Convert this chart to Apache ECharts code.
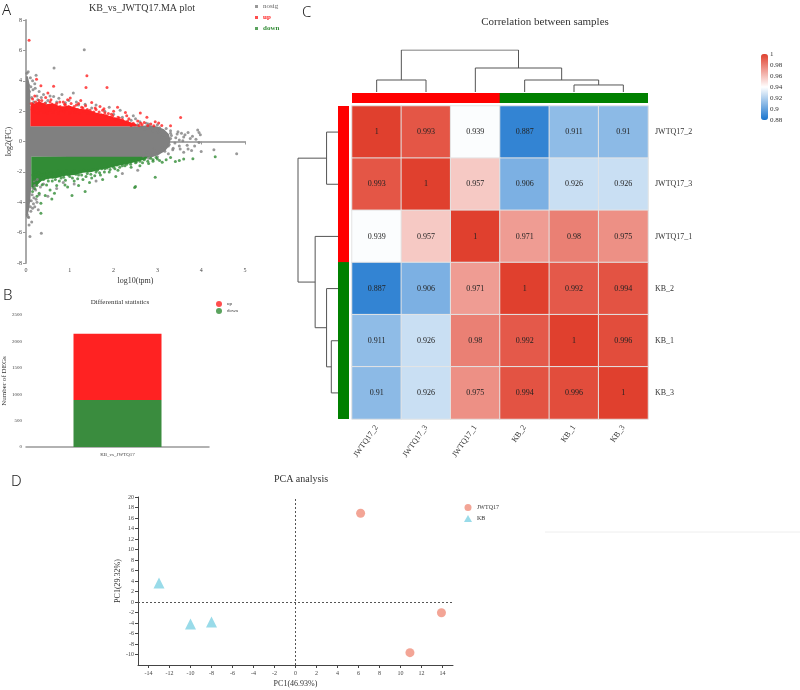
<!DOCTYPE html>
<html>
<head>
<meta charset="utf-8">
<script src="https://cdn.jsdelivr.net/npm/echarts@6/dist/echarts.min.js"></script>
<style>
  html, body { margin: 0; padding: 0; background: #fff; }
  #main { width: 800px; height: 690px; }
</style>
</head>
<body>
<div id="main"></div>
<script>
// ---------- A: MA plot ----------
// dense cores (outline of the solid-looking regions)
const maGrayCore = [[0,4.3],[0.04,4.3],[0.08,3.8],[0.1,3.0],[0.1,1.0],[2.6,1.0],[2.8,1.08],[3.0,0.98],[3.15,0.8],[3.26,0.5],[3.3,0.1],[3.27,-0.3],[3.17,-0.65],[3.0,-0.92],[2.85,-1.05],[0.12,-1.0],[0.12,-3.0],[0.1,-3.8],[0.07,-4.5],[0.03,-4.9],[0,-5.0]]
const maUpCore = [[0.1,1.0],[0.1,2.3],[0.14,2.6],[0.2,2.5],[0.3,2.65],[0.45,2.45],[0.6,2.5],[0.8,2.3],[1.0,2.35],[1.2,2.15],[1.4,2.1],[1.6,1.9],[1.8,1.8],[2.0,1.6],[2.2,1.45],[2.4,1.25],[2.55,1.1],[2.6,1.0]]
const maDownCore = [[0.12,-1.0],[2.8,-1.0],[2.7,-1.2],[2.5,-1.35],[2.3,-1.5],[2.1,-1.6],[1.9,-1.75],[1.7,-1.85],[1.5,-2.0],[1.3,-2.05],[1.1,-2.2],[0.9,-2.25],[0.7,-2.4],[0.5,-2.45],[0.35,-2.6],[0.25,-2.9],[0.15,-3.1],[0.12,-3.0]]
// scattered genes outside the cores
const maNosig = [[0.02,4.5],[0.05,4.6],[0.1,4.2],[0.15,4.0],[0.2,3.8],[0.23,4.37],[0.64,4.84],[1.33,6.04],[0.3,3.3],[0.25,3.0],
  [0.35,2.9],[0.63,2.97],[0.82,3.1],[1.08,3.19],[0.5,2.7],[0.7,2.6],[0.9,2.55],[1.2,2.4],[1.5,2.2],[1.8,2.0],[2.0,1.8],[2.2,1.6],
  [2.4,1.4],[2.6,1.3],[2.8,1.15],[2.75,1.2],[3.0,1.1],[3.05,0.9],[3.2,0.85],[3.3,0.7],[3.45,0.5],[3.55,0.55],[3.6,0.3],[3.7,0.6],
  [3.8,0.35],[3.95,0.6],[3.98,0.45],[3.95,-0.07],[3.85,-0.3],[4.0,-0.66],[3.7,-0.5],[3.5,-0.3],[3.4,-0.1],[3.3,0.2],[3.1,0.3],
  [3.5,0.1],[3.6,-0.7],[3.25,-0.8],[3.0,-1.0],[2.8,-1.1],[4.29,-0.55],[4.81,-0.81],[3.3,0.55],[3.25,-0.3],[3.35,-0.55],
  [2.55,1.1],[2.62,0.95],[2.68,-0.95],[2.72,0.8],[2.76,-0.7],[2.82,0.95],[2.86,-0.85],[2.9,0.7],[2.93,-0.5],[2.98,0.55],
  [3.02,-0.75],[3.06,0.7],[3.1,-0.4],[3.13,0.45],[3.17,-0.65],[3.22,0.3],[3.27,-0.2],[3.32,0.4],[3.36,-0.45],[3.42,0.25],
  [3.47,0.65],[3.52,-0.5],[3.58,0.05],[3.63,0.45],[3.68,-0.25],[3.75,0.2],[3.78,-0.6],[3.88,0.15],[3.92,0.75],
  [0.06,3.7],[0.08,3.3],[0.11,3.6],[0.13,2.9],[0.16,3.4],[0.18,2.6],[0.21,3.5],[0.27,2.75],[0.4,3.1],[0.45,2.55],[0.55,3.0],
  [0.75,2.85],[0.98,2.7],[1.15,2.6],[1.35,2.45],[1.6,2.4],[1.9,2.25],[2.15,2.05],[2.45,1.7],[2.5,1.5],
  [0.05,-4.95],[0.09,-6.26],[0.35,-6.04],[0.1,-4.3],[0.15,-4.4],[0.2,-4.3],[0.25,-4.0],[0.12,-3.9],[0.18,-3.7],[0.3,-3.5],
  [0.22,-3.2],[0.06,-5.0],[0.03,-4.8],[0.28,-4.5],[0.16,-3.1],[0.2,-2.9],[0.08,-3.9],[0.11,-4.6],[0.14,-3.5],[0.17,-4.1],
  [0.19,-2.6],[0.23,-3.8],[0.26,-2.5],[0.13,-5.3],[0.07,-5.5],[0.04,-4.2],[0.33,-3.0],[0.4,-2.8],[0.5,-3.6],[0.7,-3.1],
  [0.85,-2.7],[1.1,-2.8],[1.6,-2.6],[2.2,-2.1],[2.55,-1.9]]
const maUp = [[0.07,6.66],[1.39,4.33],[1.37,3.56],[1.85,3.56],[0.63,3.63],[0.24,4.1],[0.34,3.67],[3.53,1.58],[2.09,2.26],[2.27,1.91],
  [2.61,1.87],[2.76,1.6],[3.03,1.21],[3.3,1.03],[2.92,1.03],[0.78,2.31],[1.01,2.86],[1.5,2.57],[1.69,2.31],[0.15,2.8],[0.2,3.0],
  [0.3,2.7],[0.45,2.9],[0.55,2.6],[0.5,3.2],[0.7,2.5],[0.9,2.4],[1.1,2.3],[1.3,2.2],[1.4,2.1],[1.6,2.1],[1.8,1.9],[1.95,1.8],
  [2.1,1.6],[2.2,1.45],[2.35,1.5],[2.45,1.2],[2.55,1.35],[2.65,1.1],[2.7,1.25],[2.85,1.15],[2.95,1.3],[3.1,1.05],[2.3,1.7],
  [1.2,2.5],[0.95,2.75],[0.12,2.5],[0.38,2.45],[1.05,2.15],[1.75,2.05],[2.0,2.0],[0.6,2.45],[0.85,2.6],[1.25,2.7],[1.55,1.95],[2.4,1.05],
  [0.14,2.1],[0.17,2.35],[0.19,1.95],[0.22,2.6],[0.26,2.2],[0.28,1.9],[0.31,2.45],[0.33,2.05],[0.36,2.7],[0.39,2.25],[0.41,1.95],
  [0.43,2.5],[0.47,2.15],[0.49,1.9],[0.52,2.35],[0.54,2.05],[0.57,2.75],[0.59,2.2],[0.62,1.95],[0.66,2.4],[0.68,2.1],[0.72,2.25],
  [0.74,1.9],[0.77,2.6],[0.8,2.05],[0.83,2.2],[0.86,1.95],[0.88,2.45],[0.92,2.1],[0.97,2.3],[1.0,1.9],[1.03,2.5],[1.07,2.05],
  [1.12,1.95],[1.15,2.4],[1.18,2.1],[1.22,1.85],[1.27,2.25],[1.32,2.0],[1.36,2.35],[1.42,1.85],[1.46,2.05],[1.52,1.9],[1.58,2.2],
  [1.63,1.8],[1.67,1.95],[1.72,1.75],[1.78,2.15],[1.83,1.7],[1.88,1.85],[1.93,1.6],[1.98,1.7],[2.03,1.5],[2.08,1.45],[2.13,1.55],
  [2.18,1.3],[2.25,1.25],[2.32,1.35],[2.38,1.15],[2.48,1.1],[2.58,1.05],[2.62,1.2],[2.78,1.05]]
const maDown = [[0.34,-4.73],[0.34,-4.07],[1.35,-3.3],[1.05,-3.56],[0.89,-2.86],[2.5,-2.97],[2.48,-3.03],[2.95,-2.35],[0.59,-3.78],
  [0.44,-3.56],[0.47,-2.86],[3.11,-1.36],[3.6,-1.16],[3.81,-1.14],[3.3,-1.05],[3.41,-1.32],[4.32,-1.0],[0.15,-3.3],[0.2,-3.1],
  [0.25,-2.9],[0.3,-3.4],[0.6,-2.6],[0.7,-2.9],[0.8,-2.4],[1.0,-2.3],[1.1,-2.6],[1.2,-2.2],[1.4,-2.1],[1.5,-2.4],[1.6,-2.0],
  [1.7,-2.2],[1.8,-1.8],[1.9,-2.0],[2.0,-1.7],[2.1,-1.9],[2.2,-1.6],[2.3,-1.5],[2.4,-1.7],[2.5,-1.4],[2.6,-1.3],[2.7,-1.2],
  [2.8,-1.45],[2.85,-1.1],[2.9,-1.3],[3.0,-1.15],[3.2,-1.2],[0.4,-2.5],[0.5,-2.4],[0.9,-2.1],[1.3,-2.5],[1.45,-2.7],[2.05,-2.3],
  [1.75,-2.5],[2.6,-1.6],[3.5,-1.25],[0.25,-3.6],[0.55,-3.2],[0.65,-3.4],[0.95,-3.0],[1.2,-2.9],
  [0.16,-2.2],[0.18,-2.5],[0.21,-2.0],[0.23,-2.7],[0.27,-2.3],[0.29,-2.05],[0.32,-2.55],[0.35,-2.2],[0.37,-2.85],[0.42,-2.1],
  [0.45,-2.35],[0.48,-2.0],[0.51,-2.6],[0.53,-2.25],[0.57,-2.05],[0.61,-2.35],[0.64,-2.1],[0.67,-2.5],[0.71,-2.2],[0.73,-1.95],
  [0.76,-2.6],[0.79,-2.15],[0.83,-2.0],[0.86,-2.35],[0.9,-2.55],[0.93,-1.95],[0.97,-2.2],[1.02,-2.05],[1.06,-2.4],[1.1,-1.95],
  [1.14,-2.15],[1.18,-2.45],[1.23,-2.0],[1.27,-2.2],[1.33,-1.9],[1.37,-2.3],[1.42,-1.95],[1.48,-2.15],[1.53,-1.85],[1.57,-2.25],
  [1.63,-1.9],[1.68,-2.05],[1.73,-1.8],[1.79,-2.0],[1.85,-1.75],[1.92,-1.85],[1.97,-1.6],[2.03,-1.8],[2.08,-1.55],[2.14,-1.7],
  [2.19,-1.45],[2.26,-1.6],[2.33,-1.35],[2.39,-1.5],[2.45,-1.25],[2.52,-1.35],[2.58,-1.15],[2.66,-1.4],[2.72,-1.1],[2.78,-1.3],
  [2.9,-1.2],[2.97,-1.05],[3.05,-1.25]]

// ---------- B: differential statistics ----------
const degCategories = ['KB_vs_JWTQ17']
const degDown = [890]
const degUp = [1255]

// ---------- C: correlation ----------
const samples = ['JWTQ17_2', 'JWTQ17_3', 'JWTQ17_1', 'KB_2', 'KB_1', 'KB_3']
const sampleGroups = ['JWTQ17', 'JWTQ17', 'JWTQ17', 'KB', 'KB', 'KB']
const corrMatrix = [
  [1, 0.993, 0.939, 0.887, 0.911, 0.91],
  [0.993, 1, 0.957, 0.906, 0.926, 0.926],
  [0.939, 0.957, 1, 0.971, 0.98, 0.975],
  [0.887, 0.906, 0.971, 1, 0.992, 0.994],
  [0.911, 0.926, 0.98, 0.992, 1, 0.996],
  [0.91, 0.926, 0.975, 0.994, 0.996, 1]
]
// merges: [nodeA, nodeB, height]; leaves are 0..5, merged nodes get ids 6, 7, ...
const dendroMerges = [[0, 1, 0.007], [4, 5, 0.0041], [3, 7, 0.007], [2, 8, 0.014], [6, 9, 0.0245]]

// ---------- D: PCA ----------
const pcaJWTQ17 = [[6.2, 16.9], [13.9, -2.05], [10.9, -9.65]]
const pcaKB = [[-13.0, 3.6], [-10.0, -4.2], [-8.0, -3.8]]
const pcaXTicks = [-14, -12, -10, -8, -6, -4, -2, 0, 2, 4, 6, 8, 10, 12, 14]

const SERIF = "'Liberation Serif', 'Times New Roman', serif"
const SANS = "'Noto Sans', 'DejaVu Sans', sans-serif"
const RED = '#ff2222'
const GREEN = '#328c36'
const GRAY = '#808080'
const groupColors = {JWTQ17: '#ff0000', KB: '#008000'}

// dendrogram U-shapes in data units (leaf i at i + 0.5)
const dendroLines = (merges, n, horizontal) => {
  const pos = [], ht = [], out = []
  for (let i = 0; i < n; i++) { pos[i] = i + 0.5; ht[i] = 0 }
  merges.forEach(([a, b, h], k) => {
    pos[n + k] = (pos[a] + pos[b]) / 2
    ht[n + k] = h
    const pts = [[pos[a], ht[a]], [pos[a], h], [pos[b], h], [pos[b], ht[b]]]
    out.push({coords: horizontal ? pts.map(p => [p[1], p[0]]) : pts})
  })
  return out
}
const rootH = dendroMerges[dendroMerges.length - 1][2]

const polygonSeries = (points, color, xi, yi) => ({
  type: 'custom', xAxisIndex: xi, yAxisIndex: yi, silent: true, data: [0],
  renderItem: (params, api) => ({
    type: 'polygon',
    shape: {points: points.map(p => api.coord(p))},
    style: {fill: color}
  })
})

const heatData = []
corrMatrix.forEach((row, r) => row.forEach((v, c) => heatData.push([c, r, v])))

const hidden = {show: false}
const tinyAxis = (extra) => Object.assign({
  axisLine: {lineStyle: {color: '#999', width: 1.5}},
  axisTick: {lineStyle: {color: '#999'}, length: 3},
  axisLabel: {fontSize: 6, color: '#444', margin: 4},
  splitLine: hidden,
  nameTextStyle: {fontSize: 8, color: '#333'}
}, extra)

const option = {
  animation: false,
  textStyle: {fontFamily: SERIF},
  grid: [
    {left: 26, top: 20, width: 219, height: 243, outerBoundsMode: 'none'},      // 0 MA
    {left: 26, top: 315, width: 183, height: 132, outerBoundsMode: 'none'},     // 1 DEGs
    {left: 352, top: 50, width: 296, height: 42, outerBoundsMode: 'none'},      // 2 top dendro
    {left: 298, top: 106, width: 40, height: 313, outerBoundsMode: 'none'},     // 3 left dendro
    {left: 352, top: 93, width: 296, height: 10, outerBoundsMode: 'none'},      // 4 col groups
    {left: 338, top: 106, width: 11, height: 313, outerBoundsMode: 'none'},     // 5 row groups
    {left: 352, top: 106, width: 296, height: 313, outerBoundsMode: 'none'},    // 6 heatmap
    {left: 761, top: 54, width: 7, height: 66, outerBoundsMode: 'none'},        // 7 colour scale
    {left: 138, top: 497, width: 315, height: 168, outerBoundsMode: 'none'}     // 8 PCA
  ],
  xAxis: [
    tinyAxis({gridIndex: 0, type: 'value', min: 0, max: 5, interval: 1, name: 'log10(tpm)',
      nameLocation: 'middle', nameGap: 14, nameTextStyle: {fontSize: 8, color: '#333'},
      axisLine: {lineStyle: {color: '#aaa', width: 2}}}),
    tinyAxis({gridIndex: 1, type: 'category', data: degCategories, axisTick: {alignWithLabel: false, length: 3, lineStyle: {color: '#999'}},
      axisLabel: {fontSize: 5, color: '#444', margin: 5}}),
    {gridIndex: 2, type: 'value', min: 0, max: 6, show: false},
    {gridIndex: 3, type: 'value', min: 0, max: rootH, inverse: true, show: false},
    {gridIndex: 4, type: 'category', data: samples, show: false},
    {gridIndex: 5, type: 'value', min: 0, max: 1, show: false},
    {gridIndex: 6, type: 'category', data: samples, axisLine: hidden, axisTick: hidden, splitLine: hidden,
      axisLabel: {interval: 0, rotate: 55, fontSize: 8, color: '#333', margin: 7}},
    {gridIndex: 7, type: 'category', data: [''], show: false},
    {gridIndex: 8, type: 'value', min: -15, max: 15, name: 'PC1(46.93%)', nameLocation: 'middle', nameGap: 15,
      nameTextStyle: {fontSize: 8, color: '#333'},
      axisLine: {onZero: false, lineStyle: {color: '#444'}},
      axisTick: {customValues: pcaXTicks, length: 3, lineStyle: {color: '#444'}},
      axisLabel: {customValues: pcaXTicks, fontSize: 6, color: '#444', margin: 5},
      splitLine: hidden}
  ],
  yAxis: [
    tinyAxis({gridIndex: 0, type: 'value', min: -8, max: 8, interval: 2, name: 'log2(FC)',
      nameLocation: 'middle', nameGap: 13, nameTextStyle: {fontSize: 8, color: '#333'},
      axisLine: {lineStyle: {color: '#aaa', width: 2}}}),
    tinyAxis({gridIndex: 1, type: 'value', min: 0, max: 2500, interval: 500, name: 'Number of DEGs',
      nameLocation: 'middle', nameGap: 14, nameTextStyle: {fontSize: 7, color: '#333'},
      axisLabel: {fontSize: 5, color: '#444', margin: 4, formatter: v => String(v)}}),
    {gridIndex: 2, type: 'value', min: 0, max: rootH, show: false},
    {gridIndex: 3, type: 'value', min: 0, max: 6, inverse: true, show: false},
    {gridIndex: 4, type: 'value', min: 0, max: 1, show: false},
    {gridIndex: 5, type: 'category', data: samples, inverse: true, show: false},
    {gridIndex: 6, type: 'category', data: samples, inverse: true, position: 'right',
      axisLine: hidden, axisTick: hidden, splitLine: hidden,
      axisLabel: {fontSize: 8, color: '#333', margin: 7}},
    {gridIndex: 7, type: 'value', min: 0.88, max: 1, interval: 0.02, position: 'right',
      axisLine: hidden, splitLine: hidden,
      axisTick: {length: 2, lineStyle: {color: '#666'}},
      axisLabel: {fontSize: 7, color: '#333', margin: 2, formatter: v => String(+v.toFixed(2))}},
    {gridIndex: 8, type: 'value', min: -12, max: 20, interval: 2, name: 'PC1(29.32%)', nameLocation: 'middle',
      nameGap: 15, nameTextStyle: {fontSize: 8, color: '#333'},
      axisLine: {onZero: false, lineStyle: {color: '#444'}},
      axisTick: {length: 3, lineStyle: {color: '#444'}},
      axisLabel: {fontSize: 6, color: '#444', margin: 4, showMinLabel: false},
      splitLine: hidden}
  ],
  visualMap: {
    type: 'continuous', seriesIndex: 10, min: 0.88, max: 1, calculable: false,
    left: 761, top: 54, itemWidth: 7, itemHeight: 66, padding: 0, text: null,
    inRange: {color: ['#1874cd', '#ffffff', '#e0402e']},
    textStyle: {fontSize: 1, color: 'transparent'}
  },
  legend: [
    {data: [
        {name: 'nosig', textStyle: {color: '#666'}},
        {name: 'up', textStyle: {color: RED, fontWeight: 'bold'}},
        {name: 'down', textStyle: {color: GREEN, fontWeight: 'bold'}}],
      orient: 'vertical', left: 255, top: 3, padding: 0, icon: 'rect', itemWidth: 3, itemHeight: 3,
      itemGap: 4, itemStyle: {borderWidth: 0}, textStyle: {fontSize: 7, fontFamily: SERIF}},
    {data: ['up', 'down'], orient: 'vertical', left: 216, top: 301, padding: 0, icon: 'circle',
      itemWidth: 6, itemHeight: 6, itemGap: 1, textStyle: {fontSize: 5, color: '#333', fontFamily: SERIF}},
    {data: ['JWTQ17', 'KB'], orient: 'vertical', left: 464, top: 504, padding: 0,
      itemWidth: 8, itemHeight: 7, itemGap: 4, textStyle: {fontSize: 6, color: '#333', fontFamily: SERIF}}
  ],
  series: [
    // 0-2 MA cores
    Object.assign(polygonSeries(maGrayCore, GRAY, 0, 0), {name: 'nosigCore'}),
    Object.assign(polygonSeries(maUpCore, RED, 0, 0), {name: 'upCore'}),
    Object.assign(polygonSeries(maDownCore, GREEN, 0, 0), {name: 'downCore'}),
    // 3-5 MA scattered genes
    {name: 'nosig', type: 'scatter', xAxisIndex: 0, yAxisIndex: 0, data: maNosig, symbolSize: 3, itemStyle: {color: GRAY}},
    {name: 'up', type: 'scatter', xAxisIndex: 0, yAxisIndex: 0, data: maUp, symbolSize: 3, itemStyle: {color: RED}},
    {name: 'down', type: 'scatter', xAxisIndex: 0, yAxisIndex: 0, data: maDown, symbolSize: 3, itemStyle: {color: GREEN}},
    // 6-7 DEG bar
    {name: 'down', type: 'bar', stack: 'deg', xAxisIndex: 1, yAxisIndex: 1, data: degDown, barWidth: 88, itemStyle: {color: '#3a8c3e'}},
    {name: 'up', type: 'bar', stack: 'deg', xAxisIndex: 1, yAxisIndex: 1, data: degUp, barWidth: 88, itemStyle: {color: RED}},
    // 8-9 dendrograms
    {type: 'lines', coordinateSystem: 'cartesian2d', xAxisIndex: 2, yAxisIndex: 2, polyline: true, silent: true,
      lineStyle: {color: '#555', width: 1, opacity: 1}, data: dendroLines(dendroMerges, samples.length, false)},
    {type: 'lines', coordinateSystem: 'cartesian2d', xAxisIndex: 3, yAxisIndex: 3, polyline: true, silent: true,
      lineStyle: {color: '#555', width: 1, opacity: 1}, data: dendroLines(dendroMerges, samples.length, true)},
    // 10 heatmap
    {type: 'heatmap', xAxisIndex: 6, yAxisIndex: 6, data: heatData,
      itemStyle: {borderColor: '#e4e4e4', borderWidth: 1},
      label: {show: true, fontSize: 8, color: '#222', fontFamily: SERIF, formatter: p => String(p.value[2])}},
    // 11-12 group bars
    {type: 'bar', xAxisIndex: 4, yAxisIndex: 4, barWidth: 50, silent: true,
      data: sampleGroups.map(g => ({value: 1, itemStyle: {color: groupColors[g]}}))},
    {type: 'bar', xAxisIndex: 5, yAxisIndex: 5, barWidth: 53, silent: true,
      data: sampleGroups.map(g => ({value: 1, itemStyle: {color: groupColors[g]}}))},
    // 13 colour scale axis holder
    {type: 'scatter', xAxisIndex: 7, yAxisIndex: 7, data: []},
    // 14-15 PCA
    {name: 'JWTQ17', type: 'scatter', xAxisIndex: 8, yAxisIndex: 8, data: pcaJWTQ17, symbol: 'circle', symbolSize: 9,
      itemStyle: {color: '#f08e7c'},
      markLine: {silent: true, symbol: 'none', label: {show: false},
        lineStyle: {type: [2, 2], color: '#555', width: 1},
        data: [{xAxis: 0}, {yAxis: 0}]}},
    {name: 'KB', type: 'scatter', xAxisIndex: 8, yAxisIndex: 8, data: pcaKB, symbol: 'triangle', symbolSize: 11,
      itemStyle: {color: '#80d2e4'}}
  ],
  graphic: [
    {type: 'text', x: 2, y: 3, style: {text: 'A', font: '300 15px ' + SANS, fill: '#222'}},
    {type: 'text', x: 3, y: 288, style: {text: 'B', font: '300 15px ' + SANS, fill: '#222'}},
    {type: 'text', x: 302, y: 5, style: {text: 'C', font: '300 15px ' + SANS, fill: '#222'}},
    {type: 'text', x: 11, y: 474, style: {text: 'D', font: '300 15px ' + SANS, fill: '#222'}},
    {type: 'text', x: 142, y: 8, style: {text: 'KB_vs_JWTQ17.MA plot', font: '10px ' + SERIF, fill: '#333', align: 'center', verticalAlign: 'middle'}},
    {type: 'text', x: 120, y: 302, style: {text: 'Differential statistics', font: '7px ' + SERIF, fill: '#333', align: 'center', verticalAlign: 'middle'}},
    {type: 'text', x: 545, y: 22, style: {text: 'Correlation between samples', font: '11px ' + SERIF, fill: '#333', align: 'center', verticalAlign: 'middle'}},
    {type: 'text', x: 301, y: 479, style: {text: 'PCA analysis', font: '10px ' + SERIF, fill: '#333', align: 'center', verticalAlign: 'middle'}},
    {type: 'line', shape: {x1: 545, y1: 532, x2: 800, y2: 532}, style: {stroke: '#eeeeee', lineWidth: 1}}
  ]
}

const chartInstance = echarts.init(document.getElementById('main'))
chartInstance.setOption(option)
</script>
</body>
</html>
